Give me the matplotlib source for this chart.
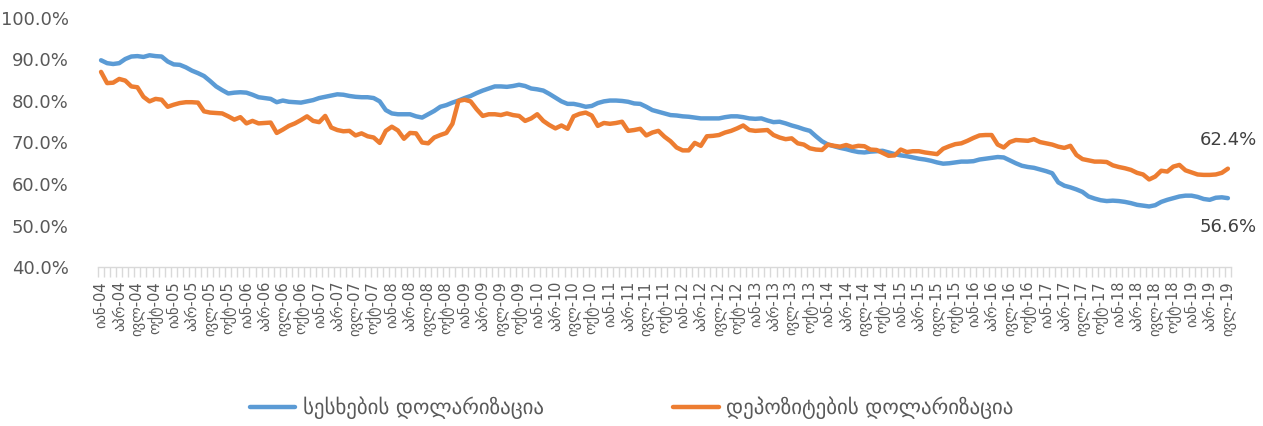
import matplotlib
matplotlib.use("Agg")
import matplotlib.pyplot as plt
from matplotlib.ticker import FixedLocator, FuncFormatter

months_ka = ["იან", "თებ", "მარ", "აპრ", "მაი", "ივნ", "ივლ", "აგვ", "სექ", "ოქტ", "ნოე", "დეკ"]
start_year = 2004
n_months = 187  # Jan-2004 .. Jul-2019

loans = [
    89.8, 89.1, 88.9, 89.1, 90.1, 90.7, 90.8, 90.6, 91.0, 90.8, 90.7, 89.5,
    88.8, 88.7, 88.1, 87.3, 86.7, 86.0, 84.8, 83.5, 82.6, 81.8, 82.0, 82.1,
    82.0, 81.5, 80.9, 80.7, 80.5, 79.7, 80.1, 79.8, 79.7, 79.6, 79.9, 80.2,
    80.7, 81.0, 81.3, 81.6, 81.5, 81.2, 81.0, 80.9, 80.9, 80.7, 79.9, 77.8,
    77.0, 76.8, 76.8, 76.8, 76.3, 76.0, 76.8, 77.6, 78.6, 79.0, 79.6, 80.1,
    80.7, 81.2, 81.9, 82.5, 83.0, 83.5, 83.5, 83.4, 83.6, 83.9, 83.6, 83.0,
    82.8, 82.5, 81.7, 80.8, 79.9, 79.3, 79.3, 79.0, 78.6, 78.8, 79.5, 79.9,
    80.1, 80.1, 80.0, 79.8, 79.4, 79.3, 78.6, 77.8, 77.4, 77.0, 76.6, 76.5,
    76.3, 76.2, 76.0, 75.8, 75.8, 75.8, 75.8, 76.1, 76.3, 76.3, 76.1, 75.8,
    75.7, 75.8, 75.3, 74.9, 75.0, 74.6, 74.1, 73.7, 73.2, 72.8, 71.5, 70.3,
    69.5, 69.1, 68.7, 68.4, 68.0, 67.7, 67.6, 67.8, 67.9, 68.0, 67.6, 67.2,
    66.9, 66.7, 66.4, 66.1, 65.9, 65.6, 65.2, 64.9, 65.0, 65.2, 65.4, 65.4,
    65.5, 65.9, 66.1, 66.3, 66.5, 66.4, 65.7, 65.0, 64.4, 64.1, 63.9, 63.5,
    63.1, 62.6, 60.4, 59.6, 59.2, 58.7, 58.1, 57.0, 56.5, 56.1, 55.9, 56.0,
    55.9, 55.7, 55.4, 55.0, 54.8, 54.6, 54.9, 55.7, 56.2, 56.6, 57.0, 57.2,
    57.2, 56.9, 56.4, 56.2, 56.7, 56.8, 56.6,
]

deposits = [
    87.0, 84.3, 84.4, 85.3, 84.9, 83.5, 83.3, 81.0, 79.9, 80.5, 80.3, 78.6,
    79.1, 79.5, 79.7, 79.7, 79.6, 77.5, 77.2, 77.1, 77.0, 76.3, 75.5, 76.1,
    74.6, 75.2, 74.6, 74.7, 74.8, 72.3, 73.1, 74.0, 74.6, 75.4, 76.3, 75.2,
    74.9, 76.4, 73.6, 73.0, 72.7, 72.8, 71.7, 72.2, 71.5, 71.2, 69.9, 72.8,
    73.8, 72.9, 70.9, 72.3, 72.2, 70.0, 69.8, 71.2, 71.8, 72.3, 74.5, 80.0,
    80.3, 79.9, 78.0, 76.4, 76.8, 76.8, 76.6, 77.0, 76.6, 76.4, 75.2, 75.8,
    76.8, 75.2, 74.2, 73.4, 74.1, 73.3, 76.3, 76.9, 77.2, 76.5, 74.0, 74.7,
    74.5, 74.7, 75.0, 72.8, 73.0, 73.3, 71.7, 72.4, 72.8, 71.4, 70.3, 68.8,
    68.1, 68.1, 69.9, 69.2, 71.5, 71.6, 71.8, 72.4, 72.8, 73.4, 74.1, 73.0,
    72.8, 72.9, 73.0, 71.8, 71.2, 70.8, 71.0, 69.8, 69.5, 68.6, 68.3, 68.2,
    69.5, 69.2, 69.0, 69.4, 68.9, 69.2, 69.1, 68.3, 68.2, 67.5, 66.8, 66.9,
    68.3, 67.7, 67.9, 67.9, 67.6, 67.4, 67.2, 68.5, 69.1, 69.6, 69.8, 70.4,
    71.1, 71.7, 71.8, 71.8, 69.5, 68.8, 70.1, 70.6, 70.5, 70.4, 70.8, 70.1,
    69.8, 69.5, 69.0, 68.7, 69.2, 67.0, 66.0, 65.7, 65.4, 65.4, 65.3, 64.5,
    64.1, 63.8, 63.4, 62.7, 62.3, 61.1, 61.8, 63.2, 63.0, 64.2, 64.6, 63.3,
    62.8, 62.3, 62.2, 62.2, 62.3, 62.7, 63.7,
]

series_names = ["სესხების დოლარიზაცია", "დეპოზიტების დოლარიზაცია"]
end_labels = ["56.6%", "62.4%"]
y_ticks = [40, 50, 60, 70, 80, 90, 100]

plt.rcParams['font.family'] = ['DejaVu Sans']

fig = plt.figure(figsize=(12.63, 4.26), dpi=100)
ax = fig.add_axes([0.0776, 0.373, 0.897, 0.585])

x = list(range(n_months))
blue = "#5B9BD5"
orange = "#ED7D31"
ax.plot(x, loans, color=blue, lw=3.2, solid_capstyle="round", solid_joinstyle="round", label=series_names[0])
ax.plot(x, deposits, color=orange, lw=3.2, solid_capstyle="round", solid_joinstyle="round", label=series_names[1])

ax.set_xlim(-0.5, n_months - 0.5)
ax.set_ylim(40, 100)

ax.set_yticks(y_ticks)
ax.yaxis.set_major_formatter(FuncFormatter(lambda v, p: f"{v:.1f}%"))
ax.tick_params(axis="y", length=0, pad=21, labelsize=13, labelcolor="#595959")

major = list(range(0, n_months, 3))
labels = [f"{months_ka[i % 12]}-{(start_year + i // 12) % 100:02d}" for i in major]
ax.set_xticks(major)
ax.set_xticklabels(labels, rotation=90, fontsize=10.5, color="#595959")
ax.xaxis.set_minor_locator(FixedLocator([i - 0.5 for i in range(n_months + 1)]))
ax.tick_params(axis="x", which="major", length=0, pad=10)
ax.tick_params(axis="x", which="minor", length=7, width=1, color="#d9d9d9", direction="out")

for s in ["top", "right", "left"]:
    ax.spines[s].set_visible(False)
ax.spines["bottom"].set_color("#d9d9d9")
ax.spines["bottom"].set_linewidth(1)

ax.annotate(end_labels[1], xy=(x[-1], deposits[-1]), xytext=(0, 14), textcoords="offset points",
            ha="center", va="bottom", fontsize=13, color="#404040")
ax.annotate(end_labels[0], xy=(x[-1], loans[-1]), xytext=(0, -14), textcoords="offset points",
            ha="center", va="top", fontsize=13, color="#404040")

leg = fig.legend(loc="center", bbox_to_anchor=(0.5, 0.042), ncol=2, frameon=False,
                 fontsize=15, handlelength=2.2, handletextpad=0.35, columnspacing=6.2)
for t in leg.get_texts():
    t.set_color("#595959")

fig.savefig("out.png", dpi=100)
